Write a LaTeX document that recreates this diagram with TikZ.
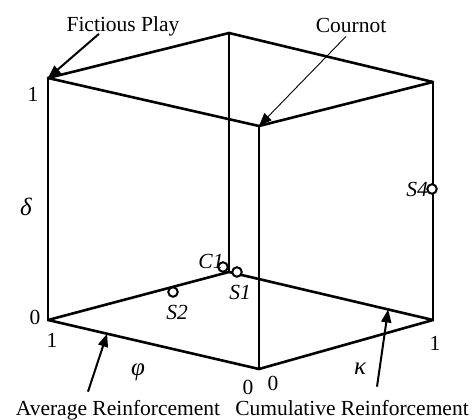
\documentclass[tikz,border=0pt]{standalone}
\usepackage{fontspec}
\setmainfont{Liberation Serif}
\usetikzlibrary{arrows.meta,calc}

\begin{document}
\begin{tikzpicture}[x=1pt,y=-1pt,
    edge/.style={line width=2.6pt, line cap=round, line join=round},
    lbl/.style={inner sep=0pt, font=\fontsize{21.5}{24}\selectfont},
    greek/.style={inner sep=0pt, font=\fontsize{25}{28}\selectfont\itshape},
    pnt/.style={circle, draw, fill=white, line width=2pt, inner sep=0pt, minimum size=9.5pt},
    ptr/.style={line width=2pt, -{Triangle[length=13pt,width=10pt]}}
]
\useasboundingbox (0,0) rectangle (474,420);

\coordinate (tl) at (48,78);
\coordinate (tb) at (229,33);
\coordinate (tr) at (433,82);
\coordinate (tf) at (259,126);
\coordinate (bl) at (48,320);
\coordinate (bb) at (229,272);
\coordinate (br) at (433,320);
\coordinate (bf) at (259,369);

\draw[edge] (tl) -- (tb) -- (tr) -- (tf) -- cycle;
\draw[edge] (bl) -- (bb) -- (br) -- (bf) -- cycle;
\foreach \c in {l,b,r,f}
    \draw[edge] (t\c) -- (b\c);

\node[lbl, anchor=base] (one1) at (33,102) {1};
\node[greek] (delta) at (26,207) {δ};
\node[lbl, anchor=base] (zero1) at (35,324) {0};
\node[lbl, anchor=base] (one2) at (52,347) {1};
\node[greek] (phi) at (138,372) {φ};
\node[lbl] (zero2) at (248,387) {0};
\node[lbl] (zero3) at (273,383) {0};
\node[greek] (kappa) at (360,369) {κ};
\node[lbl] (one3) at (435,343) {1};

\node[pnt] (s4) at (432,189) {};
\node[pnt] (c1) at (223,267) {};
\node[pnt] (s1) at (237,272) {};
\node[pnt] (s2) at (173,292) {};
\node[lbl] (s4l) at (417,189) {\textit{S4}};
\node[lbl] (c1l) at (211,261) {\textit{C1}};
\node[lbl] (s1l) at (240,292) {\textit{S1}};
\node[lbl] (s2l) at (177,312) {\textit{S2}};

\node[lbl, anchor=base] (fp) at (123,32) {Fictious Play};
\node[lbl, anchor=base] (cn) at (351,33) {Cournot};
\node[lbl, anchor=base] (avg) at (118,415) {Average Reinforcement};
\node[lbl, anchor=base] (cum) at (352,415) {Cumulative Reinforcement};

\coordinate (avgtip) at ($(bl)!0.28!(bf)$);
\coordinate (cumtip) at ($(bb)!0.78!(br)$);

\draw[ptr] ([xshift=-24pt,yshift=3pt]fp.south) -- (tl);
\draw[ptr, line width=0.9pt] ([xshift=-5pt,yshift=-3pt]cn.south) -- (tf);
\draw[ptr] ([xshift=-30pt,yshift=8pt]avg.north) -- (avgtip);
\draw[ptr] ([xshift=25pt,yshift=13pt]cum.north) -- (cumtip);

\end{tikzpicture}
\end{document}
